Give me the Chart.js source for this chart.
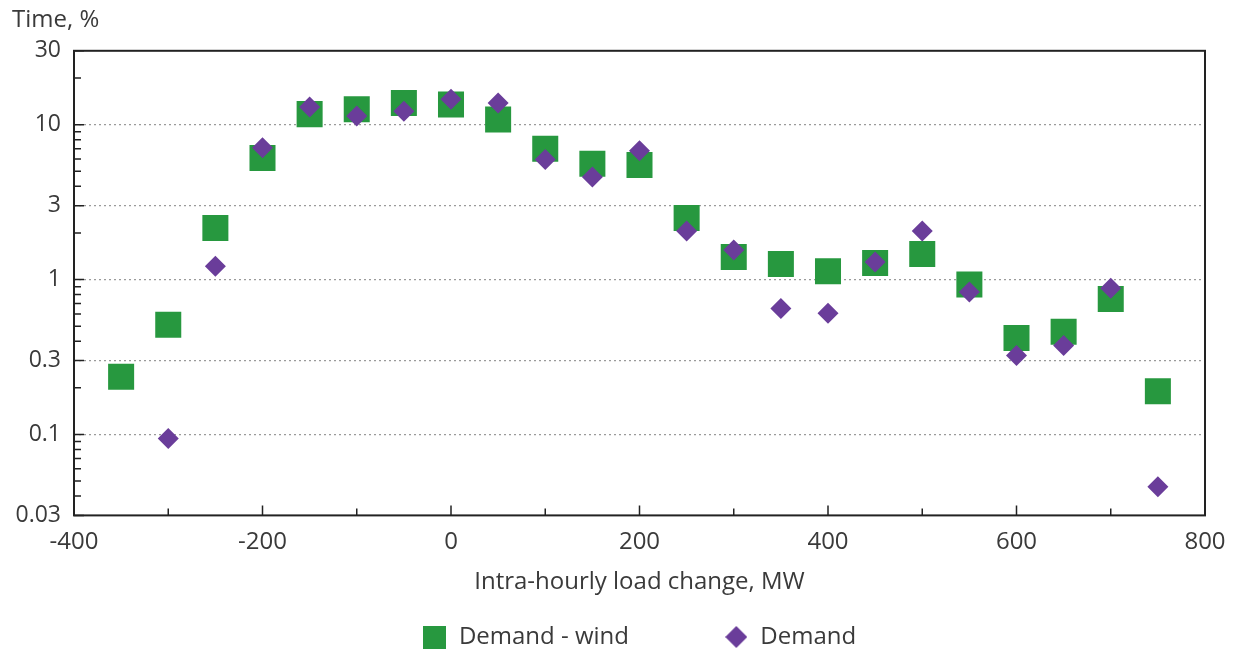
<!DOCTYPE html>
<html>
<head>
<meta charset="utf-8">
<script src="https://cdn.jsdelivr.net/npm/chart.js@4/dist/chart.umd.min.js"></script>
<style>
  html, body { margin: 0; padding: 0; background: #fff; overflow: hidden; }
  #wrap { width: 1235px; height: 653px; }
</style>
</head>
<body>
<div id="wrap"><canvas id="chart"></canvas></div>
<script>
// data
const loadChange = [-350, -300, -250, -200, -150, -100, -50, 0, 50, 100, 150, 200, 250, 300, 350, 400, 450, 500, 550, 600, 650, 700, 750];
const demandWind = [0.236, 0.51, 2.15, 6.1, 11.7, 12.6, 13.8, 13.5, 10.8, 7.0, 5.6, 5.5, 2.5, 1.4, 1.26, 1.13, 1.28, 1.46, 0.93, 0.42, 0.46, 0.75, 0.19];
const demandX = [-300, -250, -200, -150, -100, -50, 0, 50, 100, 150, 200, 250, 300, 350, 400, 450, 500, 550, 600, 650, 700, 750];
const demand = [0.094, 1.22, 7.1, 13.0, 11.4, 12.2, 14.6, 13.8, 5.97, 4.6, 6.8, 2.06, 1.55, 0.65, 0.605, 1.3, 2.06, 0.83, 0.323, 0.375, 0.88, 0.046];
const yTicks = [0.03, 0.1, 0.3, 1, 3, 10, 30];

const green = "#27983f";
const purple = "#6a3d9a";
const textColor = "#3a3a3a";
const fontFamily = "'Open Sans', sans-serif";

// small canvases used as legend symbols
function makeSymbol(kind, size, color) {
  const c = document.createElement("canvas");
  c.width = size;
  c.height = size;
  const g = c.getContext("2d");
  g.fillStyle = color;
  if (kind === "square") {
    g.fillRect(0, 0, size, size);
  } else {
    g.beginPath();
    g.moveTo(size / 2, 0);
    g.lineTo(size, size / 2);
    g.lineTo(size / 2, size);
    g.lineTo(0, size / 2);
    g.closePath();
    g.fill();
  }
  return c;
}
const legendSymbols = [makeSymbol("square", 23, green), makeSymbol("diamond", 22, purple)];

// frame + inner tick marks like the original
const framePlugin = {
  id: "frame",
  afterDraw(chart) {
    const { ctx, chartArea: a, scales } = chart;
    ctx.save();
    ctx.strokeStyle = "#222";
    ctx.lineWidth = 1.5;
    ctx.beginPath();
    for (let d = 0.01; d < 100; d *= 10) {
      for (let m = 1; m <= 9; m++) {
        const v = +(d * m).toPrecision(3);
        if (v < 0.03 || v > 30) continue;
        const y = scales.y.getPixelForValue(v);
        const len = yTicks.includes(v) ? 10 : 7;
        ctx.moveTo(a.left, y);
        ctx.lineTo(a.left + len, y);
      }
    }
    for (let v = -300; v < 800; v += 100) {
      const x = scales.x.getPixelForValue(v);
      const len = v % 200 === 0 ? 10 : 7;
      ctx.moveTo(x, a.bottom);
      ctx.lineTo(x, a.bottom - len);
    }
    ctx.stroke();
    ctx.lineWidth = 2;
    ctx.strokeRect(a.left, a.top, a.right - a.left, a.bottom - a.top);
    ctx.restore();
  }
};

const ctx = document.getElementById("chart").getContext("2d");
const chart = new Chart(ctx, {
  type: "scatter",
  data: {
    datasets: [
      {
        label: "Demand - wind",
        data: loadChange.map((x, i) => ({ x: x, y: demandWind[i] })),
        pointStyle: "rect",
        pointRadius: 18.4,
        pointHoverRadius: 18.4,
        backgroundColor: green,
        borderColor: green,
        borderWidth: 0,
        order: 1
      },
      {
        label: "Demand",
        data: demandX.map((x, i) => ({ x: x, y: demand[i] })),
        pointStyle: "rectRot",
        pointRadius: 10.5,
        pointHoverRadius: 10.5,
        backgroundColor: purple,
        borderColor: purple,
        borderWidth: 0,
        order: 0
      }
    ]
  },
  options: {
    responsive: true,
    maintainAspectRatio: false,
    animation: false,
    layout: { padding: { left: 12, right: 30, top: 0, bottom: -6 } },
    plugins: {
      title: {
        display: true,
        text: "Time, %",
        align: "start",
        color: textColor,
        font: { family: fontFamily, size: 24, weight: "normal" },
        padding: { top: 6, bottom: 16 }
      },
      legend: {
        position: "bottom",
        fullSize: false,
        labels: {
          usePointStyle: true,
          boxHeight: 24,
          padding: 8,
          color: textColor,
          font: { family: fontFamily, size: 24 },
          sort: (a, b) => a.datasetIndex - b.datasetIndex,
          generateLabels: (chart) => {
            const items = Chart.defaults.plugins.legend.labels.generateLabels(chart);
            items.forEach(item => {
              item.pointStyle = legendSymbols[item.datasetIndex];
              // wider gap between the two entries, as in the original
              if (item.datasetIndex === 0) item.text = item.text + "\u00a0".repeat(14);
            });
            return items;
          }
        }
      },
      tooltip: { enabled: false }
    },
    scales: {
      x: {
        type: "linear",
        min: -400,
        max: 800,
        afterFit: (axis) => {
          // let layout padding decide the right edge, not the "800" label
          axis.paddingRight = 0;
        },
        ticks: { stepSize: 200, padding: 12, color: textColor, font: { family: fontFamily, size: 24 } },
        grid: { display: false, drawTicks: false },
        border: { display: false },
        title: {
          display: true,
          text: "Intra-hourly load change, MW",
          color: textColor,
          font: { family: fontFamily, size: 24 },
          padding: { top: 0, bottom: 20 }
        }
      },
      y: {
        type: "logarithmic",
        min: 0.03,
        max: 30,
        afterBuildTicks: (axis) => {
          axis.ticks = yTicks.map(v => ({ value: v }));
        },
        afterFit: (axis) => {
          axis.width = 62;
        },
        ticks: {
          padding: 13,
          color: textColor,
          font: { family: fontFamily, size: 23 },
          callback: (v) => String(v)
        },
        grid: {
          drawTicks: false,
          lineWidth: 1.2,
          color: (c) => (c.tick && (c.tick.value === 0.03 || c.tick.value === 30)) ? "rgba(0,0,0,0)" : "#9a9a9a"
        },
        border: { display: false, dash: [2, 3] }
      }
    }
  },
  plugins: [framePlugin]
});
</script>
</body>
</html>
